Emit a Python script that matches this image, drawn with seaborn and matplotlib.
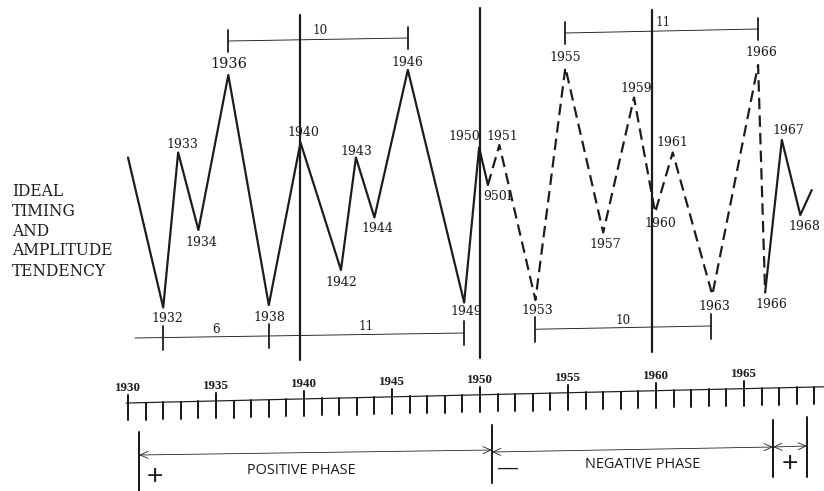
import matplotlib
matplotlib.use("Agg")
import numpy as np
import pandas as pd
import matplotlib.pyplot as plt
import seaborn as sns

# turning points: x in years, y in arbitrary amplitude units
turn_labels = ["", "1932", "1933", "1934", "1936", "1938", "1940", "1942", "1943",
               "1944", "1946", "1949", "1950", "950I", "1951", "1953", "1955", "1957",
               "1959", "1960", "1961", "1963", "1966", "1966", "1967", "1968", ""]
turn_x = [1930.0, 1932.0, 1932.85, 1934.0, 1935.7, 1938.0, 1939.8, 1942.1, 1942.95,
          1944.0, 1945.9, 1949.1, 1949.95, 1950.45, 1951.1, 1953.15, 1954.85, 1957.0,
          1958.75, 1959.95, 1960.95, 1963.2, 1965.8, 1966.2, 1967.15, 1968.2, 1968.85]
turn_amp = [65, 5, 67, 36, 98, 6, 71, 20, 65, 41, 100, 7, 69, 54, 70, 8, 101, 35,
            89, 43, 67, 10, 102, 11, 72, 42, 52]

# stretches of the curve: (first index, last index, trace)
pieces = [(0, 13, "solid"), (13, 23, "dashed"), (23, 26, "solid")]

# heavy vertical lines through the chart
cycle_lines = [1939.8, 1950.0, 1959.8]

# cycle-length brackets
top_spans = [(1935.7, 1945.9, "10"), (1954.85, 1965.8, "11")]
low_ticks = [1932.0, 1938.0, 1949.1]
low_gaps = ["6", "11"]
low_span2 = (1953.15, 1963.1, "10")

# year ruler
ruler_years = list(range(1930, 1970))
ruler_labels = list(range(1930, 1966, 5))

# phases
phase_edges = [1930.63, 1950.68, 1966.65, 1968.58]
phase_names = ["POSITIVE PHASE", "NEGATIVE PHASE", ""]
phase_signs = ["+", "\u2014", "+"]

side_text = ["IDEAL", "TIMING", "AND", "AMPLITUDE", "TENDENCY"]

ink = "#1c1c1c"
type_font = "DejaVu Serif"
sns.set_style("white")

rows = []
for k, (a, b, trace) in enumerate(pieces):
    for i in range(a, b + 1):
        rows.append({"year": turn_x[i], "amp": turn_amp[i], "piece": k, "trace": trace})
curve = pd.DataFrame(rows)

fig = plt.figure(figsize=(824 / 72, 491 / 72), dpi=72)
ax = fig.add_axes([0, 0, 1, 1])
ax.set_xlim(1922.727, 1969.545)
ax.set_ylim(-68.4, 128)
ax.axis("off")

sns.lineplot(data=curve, x="year", y="amp", units="piece", style="trace",
             dashes={"solid": "", "dashed": (5.2, 2.8)}, estimator=None, sort=False,
             color=ink, lw=2.2, legend=False, ax=ax)

# labels next to each turning point (offsets in px)
offsets = [None, (4, -11.5), (4, 8.5), (3, -12), (0, 11), (1, -12.5), (3, 10.5),
           (0, -12.5), (0, 6), (3, -11), (0, 7.5), (2, -9), (-15, 11), (10, -12),
           (3, 9), (2, -11), (0, 10), (2, -12.5), (2, 9.5), (5, -11), (0, 10),
           (2, -11.5), (3, 12.5), (6, -11.5), (6, 9.5), (4, -12), None]
for lab, x, y, off in zip(turn_labels, turn_x, turn_amp, offsets):
    if not lab:
        continue
    fs = 14.5 if lab == "1936" else 12.5
    ax.annotate(lab, (x, y), xytext=off, textcoords="offset points", ha="center",
                va="center", fontsize=fs, family=type_font, color=ink)

# heavy vertical lines
for x, (y0, y1) in zip(cycle_lines, [(122, -16), (124.8, -15.2), (124, -12.8)]):
    ax.plot([x, x], [y0, y1], color=ink, lw=2.2)

# brackets above
for (x0, x1, lab), (ya, yb) in zip(top_spans, [(111.6, 112.8), (114.8, 116.4)]):
    ax.plot([x0, x1], [ya, yb], color=ink, lw=0.9)
    for x, y in [(x0, ya), (x1, yb)]:
        ax.plot([x, x], [y - 4.3, y + 4.3], color=ink, lw=1.8)
    ax.text((x0 + x1) / 2 + 0.1, max(ya, yb) + 2.8, lab, ha="center", va="center",
            fontsize=12, family=type_font, color=ink)

# brackets below
def low_y(x):
    return -7.2 + (x - 1930.4) * 2.0 / 18.7

ax.plot([1930.4, low_ticks[-1]], [low_y(1930.4), low_y(low_ticks[-1])], color=ink, lw=0.9)
for x in low_ticks:
    ax.plot([x, x], [low_y(x) - 4.8, low_y(x) + 4.8], color=ink, lw=1.8)
for a, b, lab in zip(low_ticks[:-1], low_ticks[1:], low_gaps):
    ax.text((a + b) / 2, low_y((a + b) / 2) + 3.0, lab, ha="center", va="center",
            fontsize=12, family=type_font, color=ink)

x0, x1, lab = low_span2
ax.plot([x0, x1], [-3.7, -2.4], color=ink, lw=0.9)
for x, y in [(x0, -3.7), (x1, -2.4)]:
    ax.plot([x, x], [y - 5.0, y + 5.0], color=ink, lw=1.8)
ax.text((x0 + x1) / 2, 0.0, lab, ha="center", va="center", fontsize=12,
        family=type_font, color=ink)

# side caption
for i, line in enumerate(side_text):
    ax.text(1923.41, 51.6 - 8 * i, line, ha="left", va="center", fontsize=15.5,
            family=type_font, color=ink)

# year ruler
def ruler_y(x):
    return -33.2 + 0.164 * (x - 1930)

ax.plot([1929.9, 1969.6], [ruler_y(1929.9), ruler_y(1969.6)], color=ink, lw=1.2)
for yr in ruler_years:
    top = ruler_y(yr) + (3.2 if yr % 5 == 0 else 0)
    ax.plot([yr, yr], [top, ruler_y(yr) - 6.8], color=ink, lw=2.0)
for yr in ruler_labels:
    ax.text(yr, ruler_y(yr) + 3.6, str(yr), ha="center", va="bottom", fontsize=13,
            family="Liberation Serif", weight="bold", color=ink)

# phase bars and arrows
bar_spans = [(-44.8, -68.4), (-42, -65.2), (-40, -62.8), (-38.8, -62.8)]
for x, (y0, y1) in zip(phase_edges, bar_spans):
    ax.plot([x, x], [y0, y1], color=ink, lw=2.0)
arrow_y = [(-54, -52), (-52.8, -50.8), (-50.8, -50.4)]
for a, b, (ya, yb) in zip(phase_edges[:-1], phase_edges[1:], arrow_y):
    ax.annotate("", xy=(b, yb), xytext=(a, ya),
                arrowprops=dict(arrowstyle="<->,head_length=0.8,head_width=0.35",
                                color=ink, lw=0.8, shrinkA=0, shrinkB=0))
name_pos = [(1939.83, -60.0), (1959.26, -57.6)]
for name, (x, y) in zip(phase_names, name_pos):
    ax.text(x, y, name, ha="center", va="center", fontsize=14.5, family="Open Sans",
            color=ink)
sign_pos = [(1931.53, -62.8), (1951.59, -59.2), (1967.61, -57.6)]
for s, (x, y) in zip(phase_signs, sign_pos):
    ax.text(x, y, s, ha="center", va="center", fontsize=28 if s == "+" else 20,
            family="Liberation Sans", color=ink)

fig.savefig("out.png", dpi=72)
